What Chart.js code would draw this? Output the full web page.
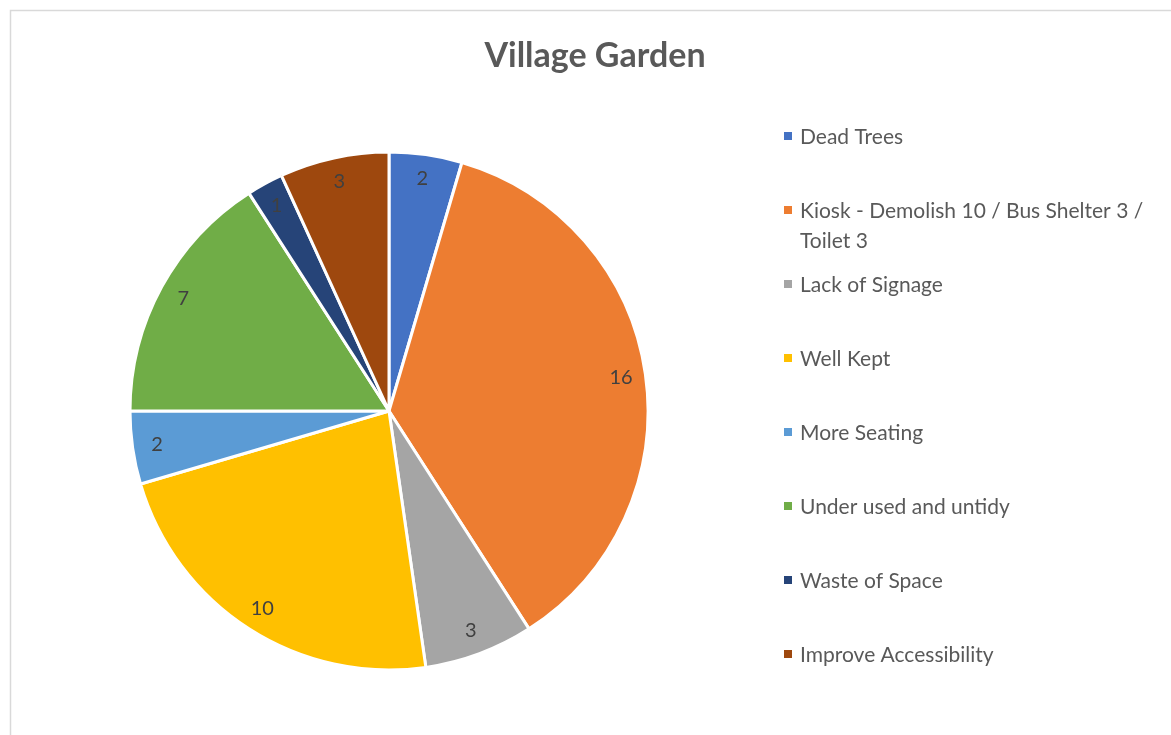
<!DOCTYPE html>
<html>
<head>
<meta charset="utf-8">
<script src="https://cdn.jsdelivr.net/npm/chart.js@4.4.1/dist/chart.umd.min.js"></script>
<style>
  html, body { margin: 0; padding: 0; background: #ffffff; }
  #wrap { position: relative; width: 1171px; height: 735px; }
</style>
</head>
<body>
<div id="wrap"><canvas id="c" width="1171" height="735"></canvas></div>
<script>
const chartTitle = 'Village Garden';
const categories = [
  'Dead Trees',
  'Kiosk - Demolish 10 / Bus Shelter 3 / Toilet 3',
  'Lack of Signage',
  'Well Kept',
  'More Seating',
  'Under used and untidy',
  'Waste of Space',
  'Improve Accessibility'
];
const values = [2, 16, 3, 10, 2, 7, 1, 3];
const colors = ['#4472C4', '#ED7D31', '#A5A5A5', '#FFC000', '#5B9BD5', '#70AD47', '#264478', '#9E480E'];

const FONT = 'Lato, "Open Sans", sans-serif';

const framePlugin = {
  id: 'frame',
  beforeDraw(chart) {
    const ctx = chart.ctx;
    ctx.save();
    ctx.strokeStyle = '#d9d9d9';
    ctx.lineWidth = 1.5;
    ctx.beginPath();
    ctx.moveTo(10.5, 740);
    ctx.lineTo(10.5, 10.5);
    ctx.lineTo(1180, 10.5);
    ctx.stroke();
    // title
    ctx.fillStyle = '#595959';
    ctx.font = 'bold 34px ' + FONT;
    ctx.textAlign = 'center';
    ctx.textBaseline = 'middle';
    ctx.fillText(chartTitle, 595, 56);
    ctx.restore();
  }
};

function wrapText(ctx, text, maxW) {
  const words = text.split(' ');
  const lines = [];
  let cur = '';
  for (const w of words) {
    const test = cur ? cur + ' ' + w : w;
    if (ctx.measureText(test).width > maxW && cur) {
      lines.push(cur);
      cur = w;
    } else {
      cur = test;
    }
  }
  if (cur) lines.push(cur);
  return lines;
}

const labelPlugin = {
  id: 'sliceLabels',
  afterDraw(chart) {
    const ctx = chart.ctx;
    const meta = chart.getDatasetMeta(0);
    ctx.save();
    ctx.fillStyle = '#404040';
    ctx.font = '20px ' + FONT;
    ctx.textAlign = 'center';
    ctx.textBaseline = 'middle';
    meta.data.forEach((arc, i) => {
      const p = arc.getProps(['x', 'y', 'startAngle', 'endAngle', 'outerRadius'], true);
      const mid = (p.startAngle + p.endAngle) / 2;
      const r = p.outerRadius * 0.905;
      ctx.fillText(String(chart.data.datasets[0].data[i]), p.x + Math.cos(mid) * r, p.y + Math.sin(mid) * r);
    });
    // legend
    ctx.font = '21px ' + FONT;
    ctx.textAlign = 'left';
    const x0 = 800, y0 = 137, step = 74, lh = 30;
    chart.data.labels.forEach((lab, i) => {
      const y = y0 + step * i;
      ctx.fillStyle = colors[i];
      ctx.fillRect(784, y - 5, 8, 8);
      ctx.fillStyle = '#595959';
      const lines = wrapText(ctx, lab, 365);
      lines.forEach((ln, k) => ctx.fillText(ln, x0, y + k * lh));
    });
    ctx.restore();
  }
};

new Chart(document.getElementById('c'), {
  type: 'pie',
  data: {
    labels: categories,
    datasets: [{
      data: values,
      backgroundColor: colors,
      borderColor: '#ffffff',
      borderWidth: 3
    }]
  },
  options: {
    responsive: false,
    animation: false,
    radius: 259,
    layout: { padding: { left: 131, top: 153, right: 524, bottom: 66 } },
    plugins: {
      legend: { display: false },
      title: { display: false },
      tooltip: { enabled: false }
    }
  },
  plugins: [framePlugin, labelPlugin]
});
</script>
</body>
</html>
